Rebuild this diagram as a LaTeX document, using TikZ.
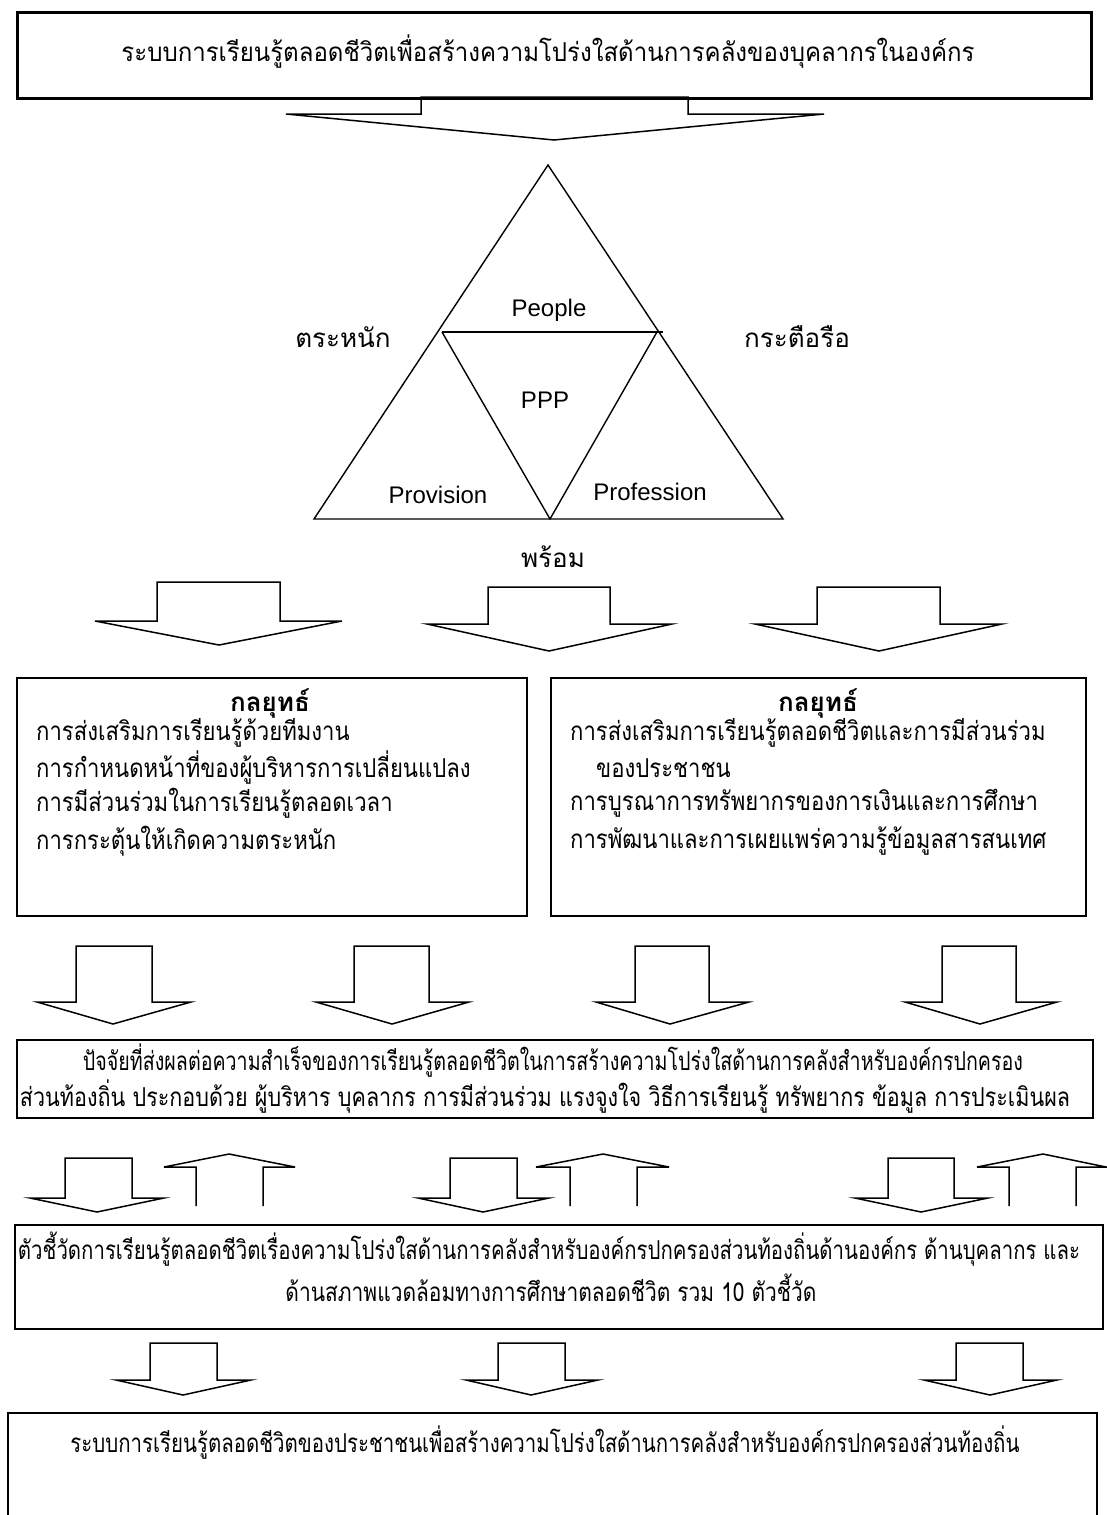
\documentclass[tikz,border=0pt]{standalone}
\usepackage{graphicx}
\usepackage{fontspec}
\setmainfont{Liberation Sans}
\newfontfamily\thai[Script=Thai]{Loma}
\newcommand\fw[2]{\resizebox{#1}{\height}{#2}}
\newcommand\sx[1]{\scalebox{0.85}[1]{#1}}
\newcommand\blkdown[8]{\draw[blk] (#1,#3) -- (#2,#3) -- (#2,#6) -- (#5,#6) -- (#7,#8) -- (#4,#6) -- (#1,#6) -- cycle;}
\newcommand\blkup[8]{\draw[blk] (#1,#8) -- (#1,#6) -- (#4,#6) -- (#7,#3) -- (#5,#6) -- (#2,#6) -- (#2,#8);}
\begin{document}
\begin{tikzpicture}[x=1pt,y=-1pt,line join=miter,
  box/.style={draw,line width=2pt,anchor=north west,inner sep=0},
  blk/.style={draw,line width=1.5pt},
  tri/.style={draw,line width=1.4pt},
  th/.style={font=\thai\fontsize{26}{30}\selectfont,inner sep=0},
  thl/.style={th,anchor=west},
  lat/.style={font=\fontsize{24}{28}\selectfont,inner sep=0}]
\useasboundingbox (0,0) rectangle (1107,1515);

% top box
\node[box,line width=2.5pt,minimum width=1074pt,minimum height=86pt] (topbox) at (16,11) {};
\node[th] (toptext) at (548,52) {\fw{853pt}{ระบบการเรียนรู้ตลอดชีวิตเพื่อสร้างความโปร่งใสด้านการคลังของบุคลากรในองค์กร}};
\blkdown{421}{688}{97}{286}{824}{114}{554}{140}

% triangle
\coordinate (apex) at (548,165);
\coordinate (bl) at (314,519);
\coordinate (br) at (783,519);
\coordinate (il) at (442,332);
\coordinate (ir) at (657,332);
\coordinate (ib) at (550,519);
\coordinate (irx) at (663,332);
\draw[tri] (apex) -- (bl) -- (br) -- cycle;
\draw[tri] (il) -- (irx);
\draw[tri] (il) -- (ib) -- (ir);
\node[lat] (people) at (549,310) {People};
\node[lat] (ppp) at (545,400) {PPP};
\node[lat] (provision) at (438,495) {Provision};
\node[lat] (profession) at (650,492) {Profession};
\node[th] (aware) at (343,337) {ตระหนัก};
\node[th] (eager) at (797,337) {กระตือรือ};
\node[th] (ready) at (553,557) {พร้อม};

% row 2 arrows
\blkdown{157}{280}{582}{95}{342}{621}{219}{645}
\blkdown{488}{610}{587}{427}{672}{624}{549}{651}
\blkdown{817}{940}{587}{755}{1002}{624}{879}{651}

% strategy boxes
\node[box,minimum width=510pt,minimum height=238pt] (leftbox) at (16,677) {};
\node[box,minimum width=535pt,minimum height=238pt] (rightbox) at (550,677) {};
\node[th,font=\thai\bfseries\fontsize{26}{30}\selectfont] (lhead) at (270,703) {กลยุทธ์};
\node[thl] (l1) at (36,733) {\sx{การส่งเสริมการเรียนรู้ด้วยทีมงาน}};
\node[thl] (l2) at (36,768) {\sx{การกำหนดหน้าที่ของผู้บริหารการเปลี่ยนแปลง}};
\node[thl] (l3) at (36,803) {\sx{การมีส่วนร่วมในการเรียนรู้ตลอดเวลา}};
\node[thl] (l4) at (36,841) {\sx{การกระตุ้นให้เกิดความตระหนัก}};
\node[th,font=\thai\bfseries\fontsize{26}{30}\selectfont] (rhead) at (818,703) {กลยุทธ์};
\node[thl] (r1) at (570,733) {\sx{การส่งเสริมการเรียนรู้ตลอดชีวิตและการมีส่วนร่วม}};
\node[thl] (r1b) at (596,768) {\sx{ของประชาชน}};
\node[thl] (r2) at (570,803) {\sx{การบูรณาการทรัพยากรของการเงินและการศึกษา}};
\node[thl] (r3) at (570,841) {\sx{การพัฒนาและการเผยแพร่ความรู้ข้อมูลสารสนเทศ}};

% row 3 arrows
\blkdown{76}{152}{946}{37}{191}{1002}{113}{1024}
\blkdown{354}{429}{946}{316}{469}{1002}{392}{1024}
\blkdown{635}{709}{946}{596}{749}{1002}{670}{1024}
\blkdown{942}{1016}{946}{905}{1057}{1002}{980}{1024}

% factors box
\node[box,minimum width=1076pt,minimum height=78pt] (factbox) at (16,1039) {};
\node[th] (f1) at (553,1061) {\fw{940pt}{ปัจจัยที่ส่งผลต่อความสำเร็จของการเรียนรู้ตลอดชีวิตในการสร้างความโปร่งใสด้านการคลังสำหรับองค์กรปกครอง}};
\node[th] (f2) at (545,1097) {\fw{1050pt}{ส่วนท้องถิ่น ประกอบด้วย ผู้บริหาร บุคลากร การมีส่วนร่วม แรงจูงใจ วิธีการเรียนรู้ ทรัพยากร ข้อมูล การประเมินผล}};

% up/down arrows
\blkdown{65}{132}{1158}{30}{164}{1198}{97}{1212}
\blkup{196}{263}{1154}{164}{295}{1167}{229}{1206}
\blkdown{450}{517}{1158}{418}{549}{1198}{483}{1212}
\blkup{570}{637}{1154}{536}{669}{1167}{603}{1206}
\blkdown{888}{954}{1158}{855}{988}{1198}{921}{1212}
\blkup{1009}{1076}{1154}{977}{1106}{1167}{1043}{1206}

% indicators box
\node[box,minimum width=1088pt,minimum height=104pt] (indbox) at (14,1224) {};
\node[th] (i1) at (549,1249) {\fw{1062pt}{ตัวชี้วัดการเรียนรู้ตลอดชีวิตเรื่องความโปร่งใสด้านการคลังสำหรับองค์กรปกครองส่วนท้องถิ่นด้านองค์กร ด้านบุคลากร และ}};
\node[th] (i2) at (551,1288) {\fw{531pt}{ด้านสภาพแวดล้อมทางการศึกษาตลอดชีวิต รวม 10 ตัวชี้วัด}};

% row 5 arrows
\blkdown{150}{217}{1343}{116}{251}{1380}{183}{1395}
\blkdown{498}{565}{1343}{466}{598}{1380}{531}{1395}
\blkdown{956}{1023}{1343}{924}{1057}{1380}{990}{1395}

% final box (open at bottom)
\coordinate (fbl) at (8,1515);
\coordinate (fbr) at (1097,1515);
\draw[line width=2pt] (fbl) -- (8,1413) -- (1097,1413) -- (fbr);
\node[th] (final) at (545,1443) {\fw{949pt}{ระบบการเรียนรู้ตลอดชีวิตของประชาชนเพื่อสร้างความโปร่งใสด้านการคลังสำหรับองค์กรปกครองส่วนท้องถิ่น}};
\end{tikzpicture}
\end{document}
